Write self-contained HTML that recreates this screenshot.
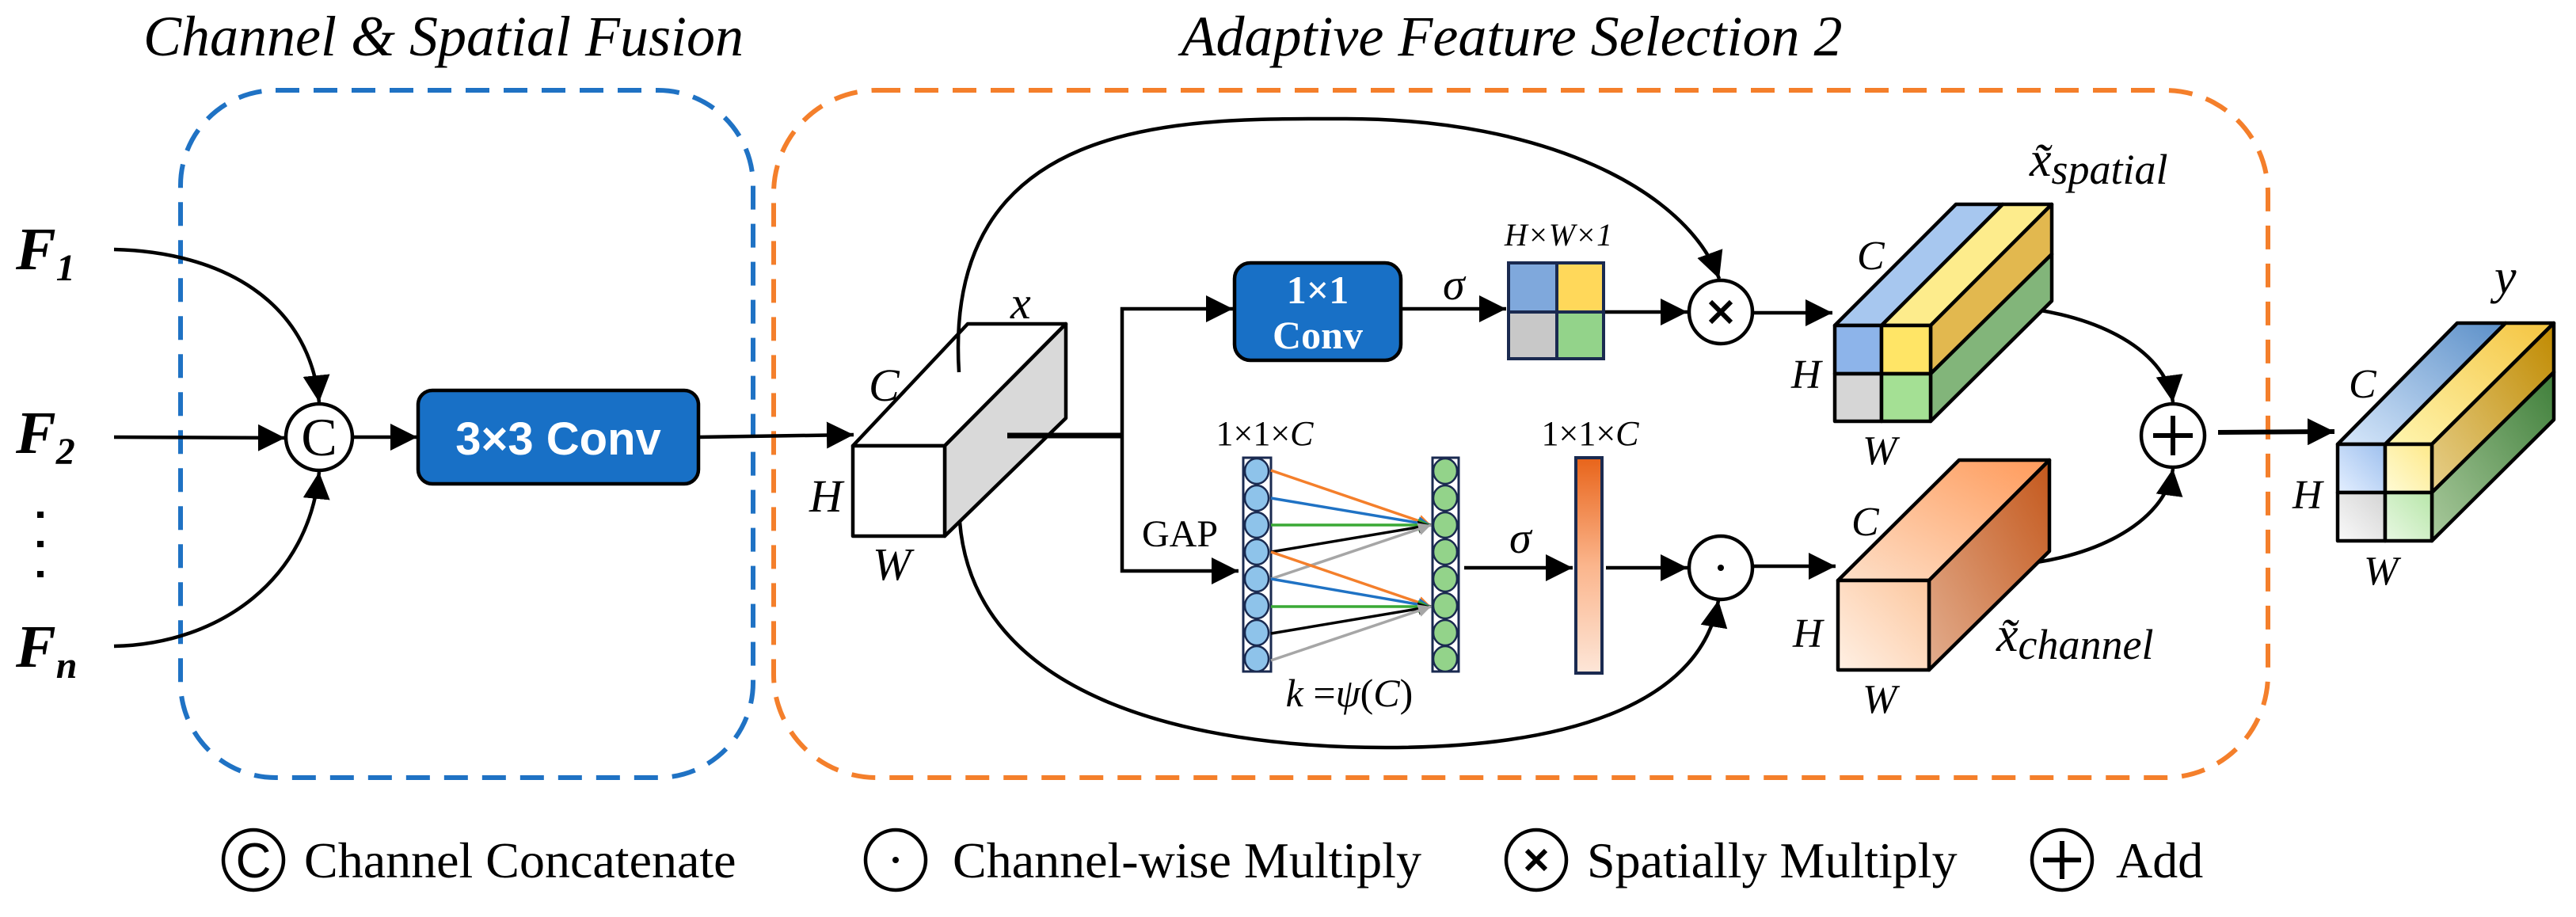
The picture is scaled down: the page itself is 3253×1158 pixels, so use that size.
<!DOCTYPE html>
<html><head><meta charset="utf-8"><style>
html,body{margin:0;padding:0;background:#fff;}
svg{display:block;}
text{font-family:"Liberation Serif",serif;}
</style></head><body>
<svg width="3253" height="1158" viewBox="0 0 3253 1158" xmlns="http://www.w3.org/2000/svg">
<defs>
<marker id="ah" markerWidth="10" markerHeight="8" refX="9" refY="4" orient="auto" markerUnits="userSpaceOnUse" viewBox="0 0 10 8">
</marker>
<marker id="a" viewBox="0 0 10 10" refX="10" refY="5" markerWidth="34" markerHeight="34" markerUnits="userSpaceOnUse" orient="auto"><path d="M0,0 L10,5 L0,10 z" fill="#000"/></marker>
<marker id="as" viewBox="0 0 10 10" refX="10" refY="5" markerWidth="16" markerHeight="16" markerUnits="userSpaceOnUse" orient="auto"><path d="M0,0 L10,5 L0,10 z" fill="context-stroke"/></marker>
<linearGradient id="bar" x1="0" y1="0" x2="0" y2="1"><stop offset="0" stop-color="#e8641a"/><stop offset="0.5" stop-color="#fbb58c"/><stop offset="1" stop-color="#fde6d8"/></linearGradient>
<linearGradient id="chf" x1="0" y1="1" x2="1" y2="0"><stop offset="0" stop-color="#fff0e4"/><stop offset="1" stop-color="#fcc79f"/></linearGradient>
<linearGradient id="cht" x1="0" y1="1" x2="1" y2="0"><stop offset="0" stop-color="#fde0c9"/><stop offset="1" stop-color="#ff9a5a"/></linearGradient>
<linearGradient id="chs" x1="0" y1="1" x2="1" y2="0"><stop offset="0" stop-color="#e2ad8e"/><stop offset="1" stop-color="#c4581c"/></linearGradient>
<linearGradient id="yb" x1="0" y1="1" x2="1" y2="0"><stop offset="0" stop-color="#d8e8fb"/><stop offset="1" stop-color="#5b8fc8"/></linearGradient>
<linearGradient id="yy" x1="0" y1="1" x2="1" y2="0"><stop offset="0" stop-color="#fff6b0"/><stop offset="1" stop-color="#f4c440"/></linearGradient>
<linearGradient id="ys" x1="0" y1="1" x2="1" y2="0"><stop offset="0" stop-color="#e6cf8a"/><stop offset="1" stop-color="#c08a00"/></linearGradient>
<linearGradient id="yg" x1="0" y1="1" x2="1" y2="0"><stop offset="0" stop-color="#a9c99c"/><stop offset="1" stop-color="#3f7f3a"/></linearGradient>
<linearGradient id="yfb" x1="0" y1="1" x2="1" y2="0"><stop offset="0" stop-color="#e4efff"/><stop offset="1" stop-color="#9ec0ee"/></linearGradient>
<linearGradient id="yfy" x1="0" y1="1" x2="1" y2="0"><stop offset="0" stop-color="#fffbd6"/><stop offset="1" stop-color="#fde98a"/></linearGradient>
<linearGradient id="yfgr" x1="0" y1="1" x2="1" y2="0"><stop offset="0" stop-color="#fafafa"/><stop offset="1" stop-color="#d4d4d4"/></linearGradient>
<linearGradient id="yfg" x1="0" y1="1" x2="1" y2="0"><stop offset="0" stop-color="#e8f8e2"/><stop offset="1" stop-color="#b8e6aa"/></linearGradient>
</defs>

<!-- titles -->
<text x="560" y="70" font-size="72" font-style="italic" text-anchor="middle">Channel &amp; Spatial Fusion</text>
<text x="1909" y="70" font-size="72" font-style="italic" text-anchor="middle">Adaptive Feature Selection 2</text>

<!-- dashed boxes -->
<rect x="228" y="114" width="723" height="868" rx="120" fill="none" stroke="#1f72c4" stroke-width="6" stroke-dasharray="30 18"/>
<rect x="977" y="114" width="1887" height="868" rx="130" fill="none" stroke="#f47f2b" stroke-width="6" stroke-dasharray="30 18"/>

<!-- inputs -->
<g font-size="76" font-weight="bold" font-style="italic">
<text x="20" y="340">F<tspan font-size="48" dy="14">1</tspan></text>
<text x="20" y="572">F<tspan font-size="48" dy="14">2</tspan></text>
<text x="20" y="842">F<tspan font-size="48" dy="14">n</tspan></text>
</g>
<rect x="47" y="646" width="8" height="8"/><rect x="47" y="683" width="8" height="8"/><rect x="47" y="721" width="8" height="8"/>

<g fill="none" stroke="#000" stroke-width="4.5">
<path d="M144,315 C280,318 390,380 403,508" marker-end="url(#a)"/>
<path d="M144,552 L360,553" marker-end="url(#a)"/>
<path d="M144,816 C280,813 390,730 403,596" marker-end="url(#a)"/>
<circle cx="403" cy="552" r="42"/>
<path d="M445,552 L527,552" marker-end="url(#a)"/>
<path d="M882,552 L1078,549" marker-end="url(#a)"/>
</g>
<text x="403" y="575" font-size="68" font-family="Liberation Sans" text-anchor="middle" font-family="Liberation Sans,sans-serif">C</text>

<rect x="528" y="493" width="354" height="118" rx="18" fill="#1870c6" stroke="#000" stroke-width="4.5"/>
<text x="705" y="574" font-size="58" font-weight="bold" fill="#fff" text-anchor="middle" style="font-family:'Liberation Sans',sans-serif">3×3 Conv</text>

<!-- x cube -->
<g stroke="#000" stroke-width="4.5" stroke-linejoin="round">
<polygon points="1077,563 1222,409 1346,409 1193,563" fill="#fff"/>
<polygon points="1193,563 1346,409 1346,528 1193,677" fill="#d9d9d9"/>
<rect x="1077" y="563" width="116" height="114" fill="#fff"/>
</g>
<g font-size="58" font-style="italic">
<text x="1276" y="402">x</text>
<text x="1097" y="506">C</text>
<text x="1022" y="646">H</text>
<text x="1102" y="732">W</text>
</g>

<!-- arcs -->
<g fill="none" stroke="#000" stroke-width="4.5">
<path d="M1211,470 C1190,140 1500,150 1700,150 C1950,150 2130,240 2171,352" marker-end="url(#a)"/>
<path d="M1212,659 C1230,880 1500,944 1750,944 C2000,944 2150,880 2170,758" marker-end="url(#a)"/>
<path d="M1272,550 L1417,550" stroke-width="7"/>
<path d="M1417,550 L1417,390 L1557,390" marker-end="url(#a)"/>
<path d="M1417,550 L1417,721 L1564,721" marker-end="url(#a)"/>
<path d="M1769,390 L1902,390" marker-end="url(#a)"/>
<path d="M1966,394 L2131,394" marker-end="url(#a)"/>
<circle cx="2173" cy="394" r="40"/>
<path d="M1849,717 L1986,717" marker-end="url(#a)"/>
<path d="M2028,717 L2131,717" marker-end="url(#a)"/>
<circle cx="2173" cy="717" r="40"/>
<path d="M2215,395 L2314,395" marker-end="url(#a)"/>
<path d="M2215,715 L2318,715" marker-end="url(#a)"/>
<path d="M2516,386 C2640,390 2735,440 2744,508" marker-end="url(#a)"/>
<path d="M2516,715 C2640,712 2735,660 2744,592" marker-end="url(#a)"/>
<circle cx="2744" cy="550" r="40"/>
<path d="M2801,546 L2948,545" stroke-width="6" marker-end="url(#a)"/>
</g>
<g stroke="#000" stroke-width="6"><path d="M2160,381 L2186,407 M2186,381 L2160,407"/><path d="M2744,525 L2744,575 M2719,550 L2769,550"/></g>
<circle cx="2173" cy="717" r="4"/>

<!-- 1x1 conv -->
<rect x="1559" y="332" width="210" height="123" rx="20" fill="#1870c6" stroke="#000" stroke-width="4.5"/>
<g font-size="50" font-weight="bold" fill="#fff" text-anchor="middle" style="font-family:'Liberation Sans',sans-serif">
<text x="1664" y="383">1×1</text><text x="1664" y="440">Conv</text></g>
<text x="1822" y="378" font-size="56" font-style="italic">σ</text>
<text x="1968" y="310" font-size="40" font-style="italic" text-anchor="middle">H×W×1</text>
<g stroke="#1a2a50" stroke-width="4">
<rect x="1905" y="332" width="61" height="62" fill="#7fa8dc"/>
<rect x="1966" y="332" width="59" height="62" fill="#ffd85a"/>
<rect x="1905" y="394" width="61" height="59" fill="#c8c8c8"/>
<rect x="1966" y="394" width="59" height="59" fill="#93d38a"/>
</g>

<!-- GAP branch -->
<text x="1490" y="690" font-size="48" text-anchor="middle">GAP</text>
<text x="1597" y="562" font-size="44" text-anchor="middle">1×1×<tspan font-style="italic">C</tspan></text>
<text x="2008" y="562" font-size="44" text-anchor="middle">1×1×<tspan font-style="italic">C</tspan></text>
<rect x="1570" y="578" width="35" height="270" fill="#fff" stroke="#1a2a50" stroke-width="3"/>
<rect x="1809" y="578" width="33" height="270" fill="#fff" stroke="#1a2a50" stroke-width="3"/>
<g fill="#8ec3ea" stroke="#1a2a50" stroke-width="2.5">
<ellipse cx="1587" cy="595" rx="15" ry="16"/><ellipse cx="1587" cy="629" rx="15" ry="16"/><ellipse cx="1587" cy="663" rx="15" ry="16"/><ellipse cx="1587" cy="697" rx="15" ry="16"/><ellipse cx="1587" cy="731" rx="15" ry="16"/><ellipse cx="1587" cy="765" rx="15" ry="16"/><ellipse cx="1587" cy="799" rx="15" ry="16"/><ellipse cx="1587" cy="832" rx="15" ry="16"/>
</g>
<g fill="#93d38a" stroke="#1a2a50" stroke-width="2.5">
<ellipse cx="1825" cy="595" rx="15" ry="16"/><ellipse cx="1825" cy="629" rx="15" ry="16"/><ellipse cx="1825" cy="663" rx="15" ry="16"/><ellipse cx="1825" cy="697" rx="15" ry="16"/><ellipse cx="1825" cy="731" rx="15" ry="16"/><ellipse cx="1825" cy="765" rx="15" ry="16"/><ellipse cx="1825" cy="799" rx="15" ry="16"/><ellipse cx="1825" cy="832" rx="15" ry="16"/>
</g>
<g stroke-width="3.5" fill="none">
<path d="M1605,594 L1807,663" stroke="#f47f2b" marker-end="url(#as)"/>
<path d="M1605,629 L1807,663" stroke="#1f72c4" marker-end="url(#as)"/>
<path d="M1605,663 L1807,663" stroke="#3aa935" marker-end="url(#as)"/>
<path d="M1605,697 L1807,663" stroke="#000" marker-end="url(#as)"/>
<path d="M1605,731 L1807,663" stroke="#a6a6a6" marker-end="url(#as)"/>
<path d="M1605,697 L1807,766" stroke="#f47f2b" marker-end="url(#as)"/>
<path d="M1605,731 L1807,766" stroke="#1f72c4" marker-end="url(#as)"/>
<path d="M1605,766 L1807,766" stroke="#3aa935" marker-end="url(#as)"/>
<path d="M1605,800 L1807,766" stroke="#000" marker-end="url(#as)"/>
<path d="M1605,834 L1807,766" stroke="#a6a6a6" marker-end="url(#as)"/>
</g>
<text x="1906" y="698" font-size="56" font-style="italic">σ</text>
<rect x="1990" y="578" width="33" height="272" fill="url(#bar)" stroke="#1a2a50" stroke-width="4"/>
<text x="1704" y="892" font-size="50" text-anchor="middle"><tspan font-style="italic">k</tspan> =<tspan font-style="italic">ψ</tspan>(<tspan font-style="italic">C</tspan>)</text>

<!-- spatial cube -->
<g stroke="#000" stroke-width="4.5" stroke-linejoin="round">
<polygon points="2317,411 2470,258 2529,258 2376,411" fill="#a7c7ef"/>
<polygon points="2376,411 2529,258 2591,258 2438,411" fill="#fdec8c"/>
<polygon points="2438,411 2591,258 2591,321 2438,472" fill="#e2b84f"/>
<polygon points="2438,472 2591,321 2591,380 2438,532" fill="#82b57a"/>
<rect x="2317" y="411" width="59" height="61" fill="#8db4ea"/>
<rect x="2376" y="411" width="62" height="61" fill="#ffe566"/>
<rect x="2317" y="472" width="59" height="60" fill="#d6d6d6"/>
<rect x="2376" y="472" width="62" height="60" fill="#a4e094"/>
</g>
<g font-size="52" font-style="italic">
<text x="2345" y="340">C</text><text x="2262" y="490">H</text><text x="2352" y="586">W</text>
</g>
<text x="2563" y="222" font-size="62" font-style="italic">x̃<tspan font-size="54" dy="10">spatial</tspan></text>

<!-- channel cube -->
<g stroke="#000" stroke-width="4.5" stroke-linejoin="round">
<polygon points="2321,733 2474,581 2588,581 2436,733" fill="url(#cht)"/>
<polygon points="2436,733 2588,581 2588,696 2436,846" fill="url(#chs)"/>
<rect x="2321" y="733" width="115" height="113" fill="url(#chf)"/>
</g>
<g font-size="52" font-style="italic">
<text x="2338" y="676">C</text><text x="2264" y="817">H</text><text x="2352" y="900">W</text>
</g>
<text x="2521" y="822" font-size="62" font-style="italic">x̃<tspan font-size="54" dy="10">channel</tspan></text>

<!-- y cube -->
<g stroke="#000" stroke-width="4.5" stroke-linejoin="round">
<polygon points="2952,561 3103,408 3164,408 3012,561" fill="url(#yb)"/>
<polygon points="3012,561 3164,408 3225,408 3071,561" fill="url(#yy)"/>
<polygon points="3071,561 3225,408 3225,470 3071,622" fill="url(#ys)"/>
<polygon points="3071,622 3225,470 3225,530 3071,683" fill="url(#yg)"/>
<rect x="2952" y="561" width="60" height="61" fill="url(#yfb)"/>
<rect x="3012" y="561" width="59" height="61" fill="url(#yfy)"/>
<rect x="2952" y="622" width="60" height="61" fill="url(#yfgr)"/>
<rect x="3012" y="622" width="59" height="61" fill="url(#yfg)"/>
</g>
<g font-size="52" font-style="italic">
<text x="2966" y="502">C</text><text x="2895" y="642">H</text><text x="2985" y="738">W</text>
<text x="3150" y="370" font-size="62">y</text>
</g>

<!-- legend -->
<g fill="none" stroke="#000" stroke-width="4.5">
<circle cx="320" cy="1086" r="38"/><circle cx="1131" cy="1086" r="38"/><circle cx="1940" cy="1086" r="38"/><circle cx="2604" cy="1086" r="38"/>
</g>
<text x="320" y="1108" font-size="62" text-anchor="middle" style="font-family:'Liberation Sans',sans-serif">C</text>
<circle cx="1131" cy="1086" r="4"/>
<g stroke="#000" stroke-width="6"><path d="M1928,1074 L1952,1098 M1952,1074 L1928,1098"/><path d="M2604,1062 L2604,1110 M2580,1086 L2628,1086"/></g>
<g font-size="64">
<text x="384" y="1108">Channel Concatenate</text>
<text x="1203" y="1108">Channel-wise Multiply</text>
<text x="2004" y="1108">Spatially Multiply</text>
<text x="2672" y="1108">Add</text>
</g>
</svg>
</body></html>
